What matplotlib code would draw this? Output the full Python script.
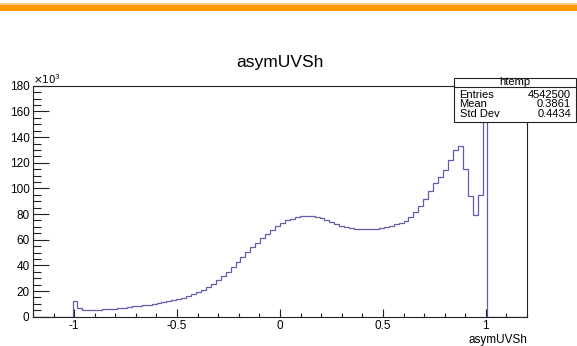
#!/usr/bin/env python

# ROOT-style histogram of asymUVSh (htemp), redrawn with matplotlib.

import numpy as np
import matplotlib
matplotlib.use("Agg")
import matplotlib.pyplot as plt
from matplotlib.patches import Rectangle
from matplotlib.ticker import MultipleLocator, FuncFormatter

plt.rcParams['font.family'] = ['Liberation Sans', 'DejaVu Sans']

# 100 bins from -1.2 to 1.2, counts in thousands (bins 8..91 are filled)
x_min, x_max, n_bins = -1.2, 1.2, 100
first_bin = 8
counts_k = [
  12.0, 7.0, 5.3, 5.2, 5.4, 5.6, 5.8, 6.0, 6.3, 6.6,
  7.0, 7.4, 8.0, 8.5, 9.0, 9.5, 10.1, 10.7, 11.3, 12.0,
  12.8, 13.8, 14.9, 16.2, 17.6, 19.2, 21.0, 23.2, 25.8, 28.6,
  31.8, 35.2, 38.8, 42.6, 46.4, 50.2, 54.0, 57.8, 61.5, 64.8,
  67.8, 70.6, 73.0, 75.0, 76.5, 77.6, 78.3, 78.7, 78.5, 77.8,
  76.6, 75.2, 73.6, 72.2, 71.0, 70.0, 69.2, 68.6, 68.2, 68.0,
  68.2, 68.7, 69.4, 70.2, 71.0, 72.0, 73.2, 74.8, 77.5, 81.5,
  86.5, 92.0, 98.0, 104.0, 109.0, 114.0, 122.0, 130.0, 133.0, 115.0,
  94.0, 79.0, 95.0, 171.5,
]

title = "asymUVSh"
stats_name = "htemp"
stats_rows = [("Entries", "4542500"), ("Mean", "0.3861"), ("Std Dev", "0.4434")]

edges = np.linspace(x_min, x_max, n_bins + 1)
values = np.zeros(n_bins)
values[first_bin:first_bin + len(counts_k)] = counts_k
ymax = 1.05 * max(counts_k)

W, H = 577, 346
fig = plt.figure(figsize=(W / 100, H / 100), dpi=100)

# orange banner at the top
fig.patches.append(Rectangle((0, 1 - 11 / H), 1, 7.5 / H, transform=fig.transFigure,
                             facecolor='#ff9a00', edgecolor='none'))
fig.patches.append(Rectangle((0, 1 - 4.5 / H), 1, 1.5 / H, transform=fig.transFigure,
                             facecolor='#ffd089', edgecolor='none'))

ax = fig.add_axes([33 / W, 1 - 316.7 / H, (527 - 33) / W, (316.7 - 85.7) / H])
ax.stairs(values, edges, baseline=0, color='#5e5eaa', linewidth=0.9)
ax.set_xlim(x_min, x_max)
ax.set_ylim(0, ymax)

for s in ax.spines.values():
  s.set_color('#222222')
  s.set_linewidth(0.8)

ax.xaxis.set_major_locator(MultipleLocator(0.5))
ax.xaxis.set_minor_locator(MultipleLocator(0.1))
ax.yaxis.set_major_locator(MultipleLocator(20))
ax.yaxis.set_minor_locator(MultipleLocator(5))
ax.xaxis.set_major_formatter(FuncFormatter(lambda v, p: "%g" % v))
ax.tick_params(axis='x', which='major', direction='in', length=6, width=0.8,
               labelsize=8.5, pad=2.5, color='#222222')
ax.tick_params(axis='x', which='minor', direction='in', length=3, width=0.8, color='#222222')
ax.tick_params(axis='y', which='major', direction='in', length=11.5, width=0.8,
               labelsize=8.5, pad=2.5, color='#222222')
ax.tick_params(axis='y', which='minor', direction='in', length=5.8, width=0.8, color='#222222')

ax.text(0.0, 1.0, r'$\times10^{3}$', transform=ax.transAxes, fontsize=7.5,
        ha='left', va='bottom')
ax.set_xlabel("asymUVSh", fontsize=8.5, loc='right', labelpad=1)

fig.text(280 / W, 1 - 62 / H, title, fontsize=12.5, ha='center', va='center')

# stats box
bx0, bx1, by0, by1 = 453.5, 576, 77.5, 122
box = Rectangle((bx0 / W, 1 - by1 / H), (bx1 - bx0) / W, (by1 - by0) / H,
                transform=fig.transFigure, facecolor='white', edgecolor='#222222',
                linewidth=0.8, zorder=5)
fig.patches.append(box)
fig.add_artist(plt.Line2D([bx0 / W, bx1 / W], [1 - 87 / H, 1 - 87 / H],
                          transform=fig.transFigure, color='#222222', linewidth=0.8, zorder=6))
fig.text((bx0 + bx1) / 2 / W, 1 - 82 / H, stats_name, fontsize=8, ha='center',
         va='center', zorder=7)
for i, (name, val) in enumerate(stats_rows):
  yy = 1 - (94.5 + 9.8 * i) / H
  fig.text((bx0 + 6) / W, yy, name, fontsize=8, ha='left', va='center', zorder=7)
  fig.text((bx1 - 5) / W, yy, val, fontsize=8, ha='right', va='center', zorder=7)

fig.savefig("out.png", dpi=100)
